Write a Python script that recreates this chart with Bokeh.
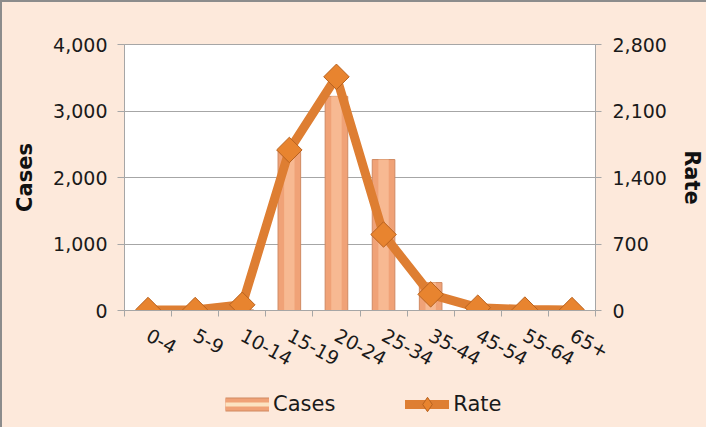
import math
from bokeh.plotting import figure
from bokeh.layouts import column
from bokeh.models import (Range1d, LinearAxis, FixedTicker, NumeralTickFormatter,
                          Legend, LegendItem, ColumnDataSource)
from bokeh.embed import file_html
from bokeh.resources import INLINE

# ---- data ----
age_groups = ["0-4", "5-9", "10-14", "15-19", "20-24", "25-34", "35-44", "45-54", "55-64", "65+"]
cases = [0, 0, 10, 2400, 3220, 2270, 420, 10, 0, 0]
rate = [5, 5, 60, 1690, 2460, 800, 170, 30, 10, 5]
cases_ticks = [0, 1000, 2000, 3000, 4000]
rate_ticks = [0, 700, 1400, 2100, 2800]

idx = list(range(len(age_groups)))
src = ColumnDataSource(dict(x=idx, cases=cases, rate=rate, label=age_groups))

FONT = "DejaVu Sans"
BG = "#FDE9DB"
GRAY = "#A6A6A6"
LINE = "#DE7E32"
BAR_FILL = "#F0A277"
BAR_EDGE = "#D08A62"
BAR_HI = "#F9BF99"
TICK_FS = "19px"

LINE_STYLE = dict(line_color=LINE, line_width=9, line_join="round", line_cap="round")

p = figure(frame_width=471, frame_height=266, output_backend="svg", toolbar_location=None,
           x_range=Range1d(-0.5, len(age_groups) - 0.5),
           y_range=Range1d(0, cases_ticks[-1]),
           min_border_left=122, min_border_right=110, min_border_top=42, min_border_bottom=62,
           background_fill_color="white", border_fill_color=BG,
           outline_line_color=GRAY, outline_line_width=1)

p.extra_y_ranges = {"rate": Range1d(0, rate_ticks[-1])}

# x axis: labels at centers, tick marks at category boundaries (minor ticks)
p.xaxis.ticker = FixedTicker(ticks=idx, minor_ticks=[i + 0.5 for i in range(-1, len(age_groups))])
p.xaxis.major_label_overrides = {i: lab for i, lab in zip(idx, age_groups)}
p.xaxis.major_tick_out = 0
p.xaxis.major_tick_in = 0
p.xaxis.minor_tick_out = 6
p.xaxis.minor_tick_in = 0
p.xaxis.minor_tick_line_color = GRAY
p.xaxis.axis_line_color = GRAY
p.xaxis.major_label_orientation = -0.5
p.xaxis.major_label_standoff = 17
p.xaxis.major_label_text_font = FONT
p.xaxis.major_label_text_font_size = TICK_FS
p.xaxis.major_label_text_color = "#1a1a1a"

# left axis
p.yaxis.ticker = FixedTicker(ticks=cases_ticks)
p.yaxis.formatter = NumeralTickFormatter(format="0,0")
p.yaxis.axis_label = "Cases"
p.yaxis.axis_label_text_font = FONT
p.yaxis.axis_label_text_font_style = "bold"
p.yaxis.axis_label_text_font_size = "21px"
p.yaxis.axis_label_text_color = "#111111"
p.yaxis.axis_label_standoff = 13
p.yaxis.major_label_text_font = FONT
p.yaxis.major_label_text_font_size = TICK_FS
p.yaxis.major_label_text_color = "#1a1a1a"
p.yaxis.major_label_standoff = 10
p.yaxis.major_tick_out = 7
p.yaxis.major_tick_in = 0
p.yaxis.minor_tick_line_color = None
p.yaxis.axis_line_color = GRAY
p.yaxis.major_tick_line_color = GRAY

# right axis
ax2 = LinearAxis(y_range_name="rate", ticker=FixedTicker(ticks=rate_ticks),
                 formatter=NumeralTickFormatter(format="0,0"), axis_label="Rate")
ax2.axis_label_text_font = FONT
ax2.axis_label_text_font_style = "bold"
ax2.axis_label_text_font_size = "21px"
ax2.axis_label_text_color = "#111111"
ax2.axis_label_standoff = 10
ax2.major_label_text_font = FONT
ax2.major_label_text_font_size = TICK_FS
ax2.major_label_text_color = "#1a1a1a"
ax2.major_label_standoff = 11
ax2.major_tick_out = 6
ax2.major_tick_in = 0
ax2.minor_tick_line_color = None
ax2.axis_line_color = GRAY
ax2.major_tick_line_color = GRAY
p.add_layout(ax2, "right")

p.xgrid.grid_line_color = None
p.ygrid.ticker = FixedTicker(ticks=cases_ticks)
p.ygrid.grid_line_color = GRAY
p.ygrid.grid_line_width = 1

# bars
p.vbar(x="x", top="cases", width=0.48, source=src,
       fill_color=BAR_FILL, line_color=BAR_EDGE, line_width=1)
p.vbar(x="x", top="cases", width=0.22, source=src,
       fill_color=BAR_HI, line_color=None, fill_alpha=0.8)

# line + diamonds
p.line(x="x", y="rate", source=src, y_range_name="rate", **LINE_STYLE)
p.scatter(x="x", y="rate", source=src, y_range_name="rate", marker="square",
          angle=math.pi / 4, size=18, fill_color="#E8842F", line_color="#B8621F", line_width=1)

# ---- legend strip (its renderers lie outside the view; only their legend swatches show) ----
lg = figure(width=703, height=52, output_backend="svg", toolbar_location=None,
            x_range=Range1d(100, 101), y_range=Range1d(100000, 100001),
            x_axis_type=None, y_axis_type=None,
            min_border_left=0, min_border_right=0, min_border_top=0, min_border_bottom=0,
            background_fill_color=BG, border_fill_color=BG, outline_line_color=None)
lg.xgrid.grid_line_color = None
lg.ygrid.grid_line_color = None
c_edge = lg.line(x="x", y="cases", source=src, line_color=BAR_EDGE, line_width=14, line_cap="butt")
c_fill = lg.line(x="x", y="cases", source=src, line_color=BAR_FILL, line_width=12, line_cap="butt")
c_hi = lg.line(x="x", y="cases", source=src, line_color="#FCE3C2", line_width=4, line_cap="butt")
r_line = lg.line(x="x", y="rate", source=src, **LINE_STYLE)
r_mk = lg.scatter(x="x", y="rate", source=src, marker="diamond", fill_color="#E8842F",
                  line_color="#B8621F", line_width=1)

legend = Legend(items=[LegendItem(label="Cases", renderers=[c_edge, c_fill, c_hi]),
                       LegendItem(label="Rate", renderers=[r_line, r_mk])],
                orientation="horizontal", location=(101, 5),
                background_fill_alpha=0, border_line_color=None,
                label_text_font=FONT, label_text_font_size="21px",
                label_text_color="#1a1a1a",
                glyph_width=44, glyph_height=36, spacing=70, padding=0, margin=0,
                label_standoff=4)
lg.add_layout(legend, "center")

layout = column(p, lg, spacing=0,
                styles={"border-left": "2px solid #8C8C8C", "border-top": "2px solid #8C8C8C",
                        "background-color": BG})

open("out.html", "w").write(file_html(layout, INLINE))
